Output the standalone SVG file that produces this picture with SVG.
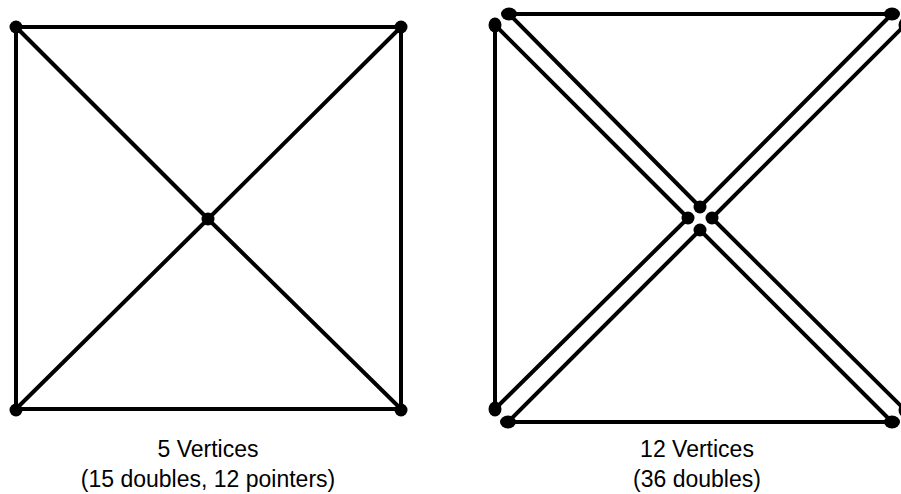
<svg xmlns="http://www.w3.org/2000/svg" width="901" height="494" viewBox="0 0 901 494">
<style>
.e{stroke:#000;stroke-width:4;fill:none;stroke-linecap:round}
.v{fill:#000}
.t{font-family:"Liberation Sans",Arial,sans-serif;font-size:23px;fill:#000;text-anchor:middle}
</style>
<rect width="901" height="494" fill="#fff"/>
<g id="connectors">
<g id="left-edges">
<line class="e" x1="16" y1="27" x2="401" y2="27"/>
<line class="e" x1="16" y1="27" x2="16" y2="409"/>
<line class="e" x1="401" y1="27" x2="401" y2="409"/>
<line class="e" x1="16" y1="409" x2="401" y2="409"/>
<line class="e" x1="16" y1="27" x2="208" y2="219"/>
<line class="e" x1="401" y1="27" x2="208" y2="219"/>
<line class="e" x1="16" y1="409" x2="208" y2="219"/>
<line class="e" x1="401" y1="409" x2="208" y2="219"/>
</g>
<g id="right-edges">
<line class="e" x1="509" y1="14" x2="892" y2="14"/>
<line class="e" x1="495" y1="25" x2="495" y2="409"/>
<line class="e" x1="508" y1="422" x2="892" y2="422"/>
<line class="e" x1="905" y1="25" x2="905" y2="410"/>
<line class="e" x1="509" y1="14" x2="700" y2="207"/>
<line class="e" x1="495" y1="25" x2="688" y2="218"/>
<line class="e" x1="892" y1="14" x2="700" y2="207"/>
<line class="e" x1="905" y1="25" x2="712" y2="218"/>
<line class="e" x1="495" y1="409" x2="688" y2="218"/>
<line class="e" x1="508" y1="422" x2="700" y2="230"/>
<line class="e" x1="892" y1="422" x2="700" y2="230"/>
<line class="e" x1="905" y1="410" x2="712" y2="218"/>
</g>
</g>
<g id="left-vertices">
<g id="L1"><circle class="v" cx="16" cy="27" r="6.5"/></g>
<g id="L2"><circle class="v" cx="401" cy="27" r="6.5"/></g>
<g id="L3"><circle class="v" cx="208" cy="219" r="6.5"/></g>
<g id="L4"><circle class="v" cx="16" cy="410" r="6.5"/></g>
<g id="L5"><circle class="v" cx="401" cy="410" r="6.5"/></g>
</g>
<g id="right-vertices">
<g id="R1"><ellipse class="v" cx="509" cy="14" rx="8" ry="6.5"/></g>
<g id="R2"><ellipse class="v" cx="495" cy="25" rx="6.5" ry="7.5"/></g>
<g id="R3"><ellipse class="v" cx="892" cy="14" rx="8" ry="6.5"/></g>
<g id="R4"><ellipse class="v" cx="905" cy="25" rx="6.5" ry="7.5"/></g>
<g id="R5"><ellipse class="v" cx="495" cy="409" rx="6.5" ry="7.5"/></g>
<g id="R6"><ellipse class="v" cx="508" cy="422" rx="8" ry="6.5"/></g>
<g id="R7"><ellipse class="v" cx="892" cy="422" rx="8" ry="6.5"/></g>
<g id="R8"><ellipse class="v" cx="905" cy="410" rx="6.5" ry="7.5"/></g>
<g id="R9"><circle class="v" cx="700" cy="207" r="6.5"/></g>
<g id="R10"><circle class="v" cx="688" cy="218" r="6.5"/></g>
<g id="R11"><circle class="v" cx="712" cy="218" r="6.5"/></g>
<g id="R12"><circle class="v" cx="700" cy="230" r="6.5"/></g>
</g>
<g id="labels">
<text class="t" x="208" y="457">5 Vertices</text>
<text class="t" x="208" y="487">(15 doubles, 12 pointers)</text>
<text class="t" x="697" y="457">12 Vertices</text>
<text class="t" x="697" y="487">(36 doubles)</text>
</g>
</svg>
